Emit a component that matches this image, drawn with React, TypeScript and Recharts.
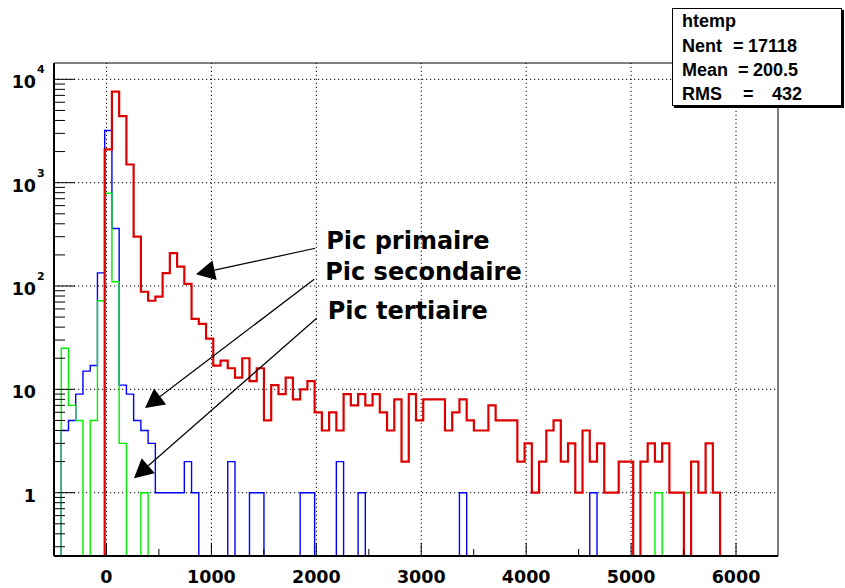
import React from 'react';
import { LineChart, Line, XAxis, YAxis, ReferenceLine } from 'recharts';

// htemp: 100 bins de 69 unités, de -500 à 6400
const BIN_START = -500;
const BIN_WIDTH = 69;

const redCounts = [
  0, 0, 0, 0, 0, 0, 0, 2100, 7600, 4400,
  1500, 300, 88, 72, 79, 133, 208, 154, 105, 48,
  43, 31, 17, 19, 16, 13, 20, 12, 16, 5,
  11, 9, 13, 8, 10, 12, 6, 4, 6, 4,
  9, 7, 9, 7, 9, 6, 4, 8, 2, 9,
  5, 8, 8, 8, 4, 6, 8, 5, 4, 4,
  7, 5, 5, 5, 2, 3, 1, 2, 4, 5,
  2, 3, 1, 4, 2, 3, 1, 1, 2, 2,
  0, 2, 3, 2, 3, 1, 1, 0, 2, 1,
  3, 1, 0, 0, 0, 0, 0, 0, 0, 0,
];

const blueCounts = [
  0, 4, 5, 9, 15, 17, 134, 3200, 360, 11,
  9, 5, 4, 3, 1, 1, 1, 1, 2, 1,
  0, 0, 0, 0, 2, 0, 0, 1, 1, 0,
  0, 0, 0, 0, 1, 1, 0, 0, 0, 2,
  0, 0, 1, 0, 0, 0, 0, 0, 0, 0,
  0, 0, 0, 0, 0, 0, 1, 0, 0, 0,
  0, 0, 0, 0, 0, 0, 0, 0, 0, 0,
  0, 0, 0, 0, 1, 0, 0, 0, 0, 0,
  0, 0, 0, 0, 0, 0, 0, 0, 0, 0,
  0, 0, 0, 0, 0, 0, 0, 0, 0, 0,
];

const greenCounts = [
  0, 25, 7, 5, 0, 5, 72, 790, 110, 3,
  0, 0, 1, 0, 0, 0, 0, 0, 0, 0,
  0, 0, 0, 0, 0, 0, 0, 0, 0, 0,
  0, 0, 0, 0, 0, 0, 0, 0, 0, 0,
  0, 0, 0, 0, 0, 0, 0, 0, 0, 0,
  0, 0, 0, 0, 0, 0, 0, 0, 0, 0,
  0, 0, 0, 0, 0, 0, 0, 0, 0, 0,
  0, 0, 0, 0, 0, 0, 0, 0, 0, 0,
  0, 0, 0, 1, 0, 0, 0, 1, 0, 0,
  0, 0, 0, 0, 0, 0, 0, 0, 0, 0,
];

const X_MIN = -500;
const X_MAX = 6400;
const Y_MIN = 0.244;
const Y_MAX = 14390;

const xMajorTicks = [0, 1000, 2000, 3000, 4000, 5000, 6000];
const xMinorTicks = [500, 1500, 2500, 3500, 4500, 5500];
const yMajorTicks = [1, 10, 100, 1000, 10000];
const yMinorTicks = [0.1, 1, 10, 100, 1000]
  .flatMap((d) => [2, 3, 4, 5, 6, 7, 8, 9].map((m) => m * d))
  .filter((v) => v > Y_MIN && v < Y_MAX);

const statsLines = [
  { name: 'Nent', value: '17118', eq: 733, end: 797 },
  { name: 'Mean', value: '200.5', eq: 738, end: 798 },
  { name: 'RMS', value: '432', eq: 743, end: 802 },
];

const annotations = [
  { label: 'Pic primaire', from: { x: 1990, y: 232 }, to: { x: 853, y: 130 } },
  { label: 'Pic secondaire', from: { x: 1980, y: 116 }, to: { x: 367, y: 6.6 } },
  { label: 'Pic tertiaire', from: { x: 2003, y: 48.7 }, to: { x: 262, y: 1.38 } },
];

const FONT = '"DejaVu Sans", Arial, sans-serif';
const STATS_FONT = '"Liberation Sans", Arial, sans-serif';

// les bins vides sont posés sur le bas de l'axe (comme ROOT en log)
const atFloor = (v: number) => (v > 0 ? v : Y_MIN);

const chartData = redCounts.map((_, i) => ({
  x: BIN_START + i * BIN_WIDTH,
  red: atFloor(redCounts[i]),
  blue: atFloor(blueCounts[i]),
  green: atFloor(greenCounts[i]),
}));
chartData.push({
  x: BIN_START + redCounts.length * BIN_WIDTH,
  red: atFloor(redCounts[redCounts.length - 1]),
  blue: atFloor(blueCounts[blueCounts.length - 1]),
  green: atFloor(greenCounts[greenCounts.length - 1]),
});

const XTick = ({ x, y, payload }: any) => {
  const major = xMajorTicks.includes(payload.value);
  return (
    <g>
      <line x1={x} x2={x} y1={y} y2={y - (major ? 13 : 7)} stroke="#000" strokeWidth={1} />
      {major && (
        <text x={x} y={y + 27} textAnchor="middle" fontFamily={FONT} fontWeight="bold" fontSize={17.5} fill="#000">
          {payload.value}
        </text>
      )}
    </g>
  );
};

const YTick = ({ x, y, payload }: any) => {
  const v = payload.value;
  const major = yMajorTicks.includes(v);
  const exp = Math.round(Math.log10(v));
  return (
    <g>
      <line x1={x} x2={x + (major ? 21 : 11)} y1={y} y2={y} stroke="#000" strokeWidth={1} />
      {major && (
        <g fontFamily={FONT} fontWeight="bold" fill="#000">
          <text x={x - 18} y={y + 9} textAnchor="end" fontSize={17.5}>
            {exp === 0 ? '1' : '10'}
          </text>
          {exp > 1 && (
            <text x={x - 17} y={y - 6} textAnchor="start" fontSize={11}>
              {exp}
            </text>
          )}
        </g>
      )}
    </g>
  );
};

const Arrow = ({ x1, y1, x2, y2, text }: any) => {
  const len = Math.hypot(x2 - x1, y2 - y1);
  const ux = (x2 - x1) / len;
  const uy = (y2 - y1) / len;
  const bx = x2 - ux * 19;
  const by = y2 - uy * 19;
  const px = -uy * 10;
  const py = ux * 10;
  return (
    <g>
      <line x1={x1} y1={y1} x2={bx} y2={by} stroke="#000" strokeWidth={1.2} />
      <polygon points={`${x2},${y2} ${bx + px},${by + py} ${bx - px},${by - py}`} fill="#000" />
      <text x={x1 + 11} y={y1 + 1} fontFamily={FONT} fontWeight="bold" fontSize={24} fill="#000">
        {text}
      </text>
    </g>
  );
};

const StatsBox = () => (
  <svg
    width={176}
    height={104}
    style={{ position: 'absolute', left: 670, top: 6 }}
    fontFamily={STATS_FONT}
    fontWeight="bold"
    fontSize={18}
  >
    <rect x={4} y={4} width={170} height={98} fill="#000" />
    <rect x={2.5} y={2.5} width={169} height={97} fill="#fff" stroke="#000" strokeWidth={1} />
    <g transform="translate(-670,-6)">
      <text x={682} y={27}>htemp</text>
      {statsLines.map((s, i) => (
        <g key={s.name}>
          <text x={682} y={51.8 + i * 24.3}>{s.name}</text>
          <text x={s.eq} y={51.8 + i * 24.3}>=</text>
          <text x={s.end} y={51.8 + i * 24.3} textAnchor="end">{s.value}</text>
        </g>
      ))}
    </g>
  </svg>
);

export default function App() {
  return (
    <div style={{ position: 'absolute', left: 0, top: 0, width: 845, height: 588, background: '#fff' }}>
      <LineChart width={845} height={588} data={chartData} margin={{ top: 63, right: 67, left: 0, bottom: 0 }}>
        <XAxis
          type="number"
          dataKey="x"
          domain={[X_MIN, X_MAX]}
          allowDataOverflow
          ticks={[...xMajorTicks, ...xMinorTicks].sort((a, b) => a - b)}
          interval={0}
          tickSize={0}
          tickMargin={0}
          tickLine={false}
          height={32}
          axisLine={{ stroke: '#000', strokeWidth: 2 }}
          tick={(p: any) => <XTick {...p} />}
        />
        <YAxis
          type="number"
          scale="log"
          domain={[Y_MIN, Y_MAX]}
          allowDataOverflow
          ticks={[...yMajorTicks, ...yMinorTicks].sort((a, b) => a - b)}
          interval={0}
          tickSize={0}
          tickMargin={0}
          tickLine={false}
          width={54}
          axisLine={{ stroke: '#000', strokeWidth: 2 }}
          tick={(p: any) => <YTick {...p} />}
        />
        {xMajorTicks.map((v) => (
          <ReferenceLine key={'gx' + v} x={v} stroke="#000" strokeWidth={1} strokeDasharray="1.2 2.8" />
        ))}
        {yMajorTicks.map((v) => (
          <ReferenceLine key={'gy' + v} y={v} stroke="#000" strokeWidth={1} strokeDasharray="1.2 2.8" />
        ))}
        <ReferenceLine y={Y_MAX} stroke="#000" strokeWidth={1} />
        <ReferenceLine x={X_MAX} stroke="#000" strokeWidth={1} />
        <Line dataKey="blue" type="stepAfter" stroke="#0000ff" strokeWidth={1.4} dot={false} isAnimationActive={false} />
        <Line dataKey="green" type="stepAfter" stroke="#00ee00" strokeWidth={1.4} dot={false} isAnimationActive={false} />
        <Line dataKey="red" type="stepAfter" stroke="#dd0000" strokeWidth={2.2} dot={false} isAnimationActive={false} />
        {annotations.map((a) => (
          <ReferenceLine
            key={a.label}
            segment={[a.from, a.to]}
            shape={(p: any) => <Arrow {...p} text={a.label} />}
          />
        ))}
      </LineChart>
      <StatsBox />
    </div>
  );
}
